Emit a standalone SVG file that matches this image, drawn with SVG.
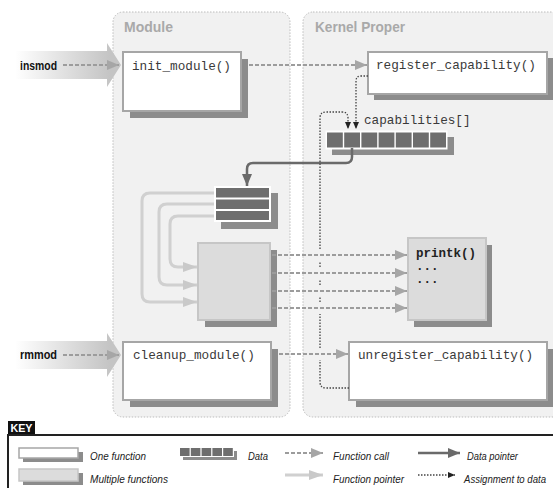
<svg xmlns="http://www.w3.org/2000/svg" width="553" height="488" viewBox="0 0 553 488">
  <style>
    .panel { fill:#f1f1f1; stroke:#bcbcbc; stroke-width:1; stroke-dasharray:1.5 1.5; }
    .panel-title { font-family:"Liberation Sans",Arial,sans-serif; font-weight:bold; font-size:15px; fill:#a9a9a9; }
    .cmd { font-family:"Liberation Sans",Arial,sans-serif; font-weight:bold; font-size:13px; fill:#111; }
    .mono { font-family:"Liberation Mono","DejaVu Sans Mono",monospace; font-size:12.7px; fill:#3a3a3a; }
    .mono-b { font-family:"Liberation Mono","DejaVu Sans Mono",monospace; font-size:12.5px; font-weight:bold; fill:#222; }
    .key-text { font-family:"Liberation Sans",Arial,sans-serif; font-style:italic; font-size:11px; fill:#222; }
    .key-text.small { font-size:10px; }
    .shadow { fill:#8c8c8c; }
    .fn { fill:#ffffff; stroke:#a6a6a6; stroke-width:2; }
    .multi { fill:#dcdcdc; stroke:#c6c6c6; stroke-width:2; }
    .cell { fill:#6e6e6e; }
    .frame { fill:#ffffff; }
    .call { fill:none; stroke:#9c9c9c; stroke-width:2; stroke-dasharray:4 2; }
    .fptr { fill:none; stroke:#d0d0d0; stroke-width:3; }
    .dptr { fill:none; stroke:#6a6a6a; stroke-width:2.5; }
    .assign { fill:none; stroke:#444; stroke-width:1.3; stroke-dasharray:1.5 1.5; }
  </style>
  <defs>
    <marker id="callHead" markerUnits="userSpaceOnUse" viewBox="0 0 12 10" refX="12" refY="5" markerWidth="12" markerHeight="10" orient="auto">
      <path d="M0,0 L12,5 L0,10 z" fill="#a6a6a6"/>
    </marker>
    <marker id="fptrHead" markerUnits="userSpaceOnUse" viewBox="0 0 14 10" refX="14" refY="5" markerWidth="14" markerHeight="10" orient="auto">
      <path d="M0,0 L14,5 L0,10 z" fill="#c9c9c9"/>
    </marker>
    <marker id="dptrHead" markerUnits="userSpaceOnUse" viewBox="0 0 12 10" refX="12" refY="5" markerWidth="12" markerHeight="10" orient="auto">
      <path d="M0,0 L12,5 L0,10 z" fill="#6a6a6a"/>
    </marker>
    <marker id="assignHead" markerUnits="userSpaceOnUse" viewBox="0 0 7 6" refX="7" refY="3" markerWidth="7" markerHeight="6" orient="auto">
      <path d="M0,0 L7,3 L0,6 z" fill="#222"/>
    </marker>
    <linearGradient id="fade" gradientUnits="userSpaceOnUse" x1="15" y1="0" x2="110" y2="0">
      <stop offset="0" stop-color="#ffffff"/>
      <stop offset="1" stop-color="#c4c4c4"/>
    </linearGradient>
  </defs>

  <!-- panels -->
  <g id="module-panel">
    <rect class="panel" x="113" y="12" width="177" height="405" rx="10"/>
    <text class="panel-title" x="124" y="32" textLength="49" lengthAdjust="spacingAndGlyphs">Module</text>
  </g>
  <g id="kernel-panel">
    <rect class="panel" x="303" y="12" width="280" height="405" rx="10"/>
    <text class="panel-title" x="315" y="32" textLength="90" lengthAdjust="spacingAndGlyphs">Kernel Proper</text>
  </g>

  <!-- user commands -->
  <g id="insmod">
    <path d="M15,51 H107 V43 L121,65 L107,87 V79 H15 z" fill="url(#fade)"/>
    <text class="cmd" x="20" y="70" textLength="37" lengthAdjust="spacingAndGlyphs">insmod</text>
  </g>
  <g id="rmmod">
    <path d="M15,341 H107 V333 L121,355 L107,377 V369 H15 z" fill="url(#fade)"/>
    <text class="cmd" x="20" y="359" textLength="37" lengthAdjust="spacingAndGlyphs">rmmod</text>
  </g>

  <!-- module functions -->
  <g id="init_module">
    <rect class="shadow" x="130" y="59" width="118" height="59"/>
    <rect class="fn" x="123" y="52" width="118" height="59"/>
    <text class="mono" x="132" y="70">init_module()</text>
  </g>
  <g id="cleanup_module">
    <rect class="shadow" x="130" y="349" width="148" height="58"/>
    <rect class="fn" x="123" y="342" width="148" height="58"/>
    <text class="mono" x="133" y="359">cleanup_module()</text>
  </g>
  <g id="capability-table">
    <rect class="shadow" x="221" y="193" width="57" height="36"/>
    <rect class="frame" x="214" y="186" width="57" height="36"/>
    <rect class="cell" x="216" y="188" width="53" height="9.5"/>
    <rect class="cell" x="216" y="199.5" width="53" height="9.5"/>
    <rect class="cell" x="216" y="211" width="53" height="9"/>
  </g>
  <g id="module-functions">
    <rect class="shadow" x="205" y="250" width="72" height="77"/>
    <rect class="multi" x="198" y="243" width="72" height="77"/>
  </g>

  <!-- kernel functions and data -->
  <g id="register_capability">
    <rect class="shadow" x="374" y="58" width="179" height="42"/>
    <rect class="fn" x="368" y="52" width="179" height="42"/>
    <text class="mono" x="376" y="69">register_capability()</text>
  </g>
  <g id="unregister_capability">
    <rect class="shadow" x="356" y="349" width="198" height="58"/>
    <rect class="fn" x="349" y="342" width="198" height="58"/>
    <text class="mono" x="358" y="359">unregister_capability()</text>
  </g>
  <g id="capabilities">
    <text class="mono" x="364" y="124">capabilities[]</text>
    <rect class="shadow" x="332" y="137" width="122" height="18"/>
    <rect class="frame" x="325.5" y="130.5" width="122" height="19"/>
    <rect class="cell" x="327" y="132.5" width="15.8" height="15"/>
    <rect class="cell" x="344.2" y="132.5" width="15.8" height="15"/>
    <rect class="cell" x="361.4" y="132.5" width="15.8" height="15"/>
    <rect class="cell" x="378.6" y="132.5" width="15.8" height="15"/>
    <rect class="cell" x="395.8" y="132.5" width="15.8" height="15"/>
    <rect class="cell" x="413" y="132.5" width="15.8" height="15"/>
    <rect class="cell" x="430.2" y="132.5" width="15.8" height="15"/>
  </g>
  <g id="printk">
    <rect class="shadow" x="414" y="245" width="78" height="82"/>
    <rect class="multi" x="408" y="238" width="78" height="82"/>
    <text class="mono-b" x="416" y="257">printk()</text>
    <text class="mono-b" x="416" y="270">...</text>
    <text class="mono-b" x="416" y="283">...</text>
  </g>

  <!-- connectors -->
  <g id="connectors">
    <!-- function calls -->
    <path class="call" d="M63,65 H119" marker-end="url(#callHead)"/>
    <path class="call" d="M63,355 H119" marker-end="url(#callHead)"/>
    <path class="call" d="M249,65 H367" marker-end="url(#callHead)"/>
    <path class="call" d="M279,354 H348" marker-end="url(#callHead)"/>
    <path class="call" d="M272,255 H407" marker-end="url(#callHead)"/>
    <path class="call" d="M272,273 H407" marker-end="url(#callHead)"/>
    <path class="call" d="M272,291 H407" marker-end="url(#callHead)"/>
    <path class="call" d="M272,308 H407" marker-end="url(#callHead)"/>
    <!-- function pointers from the table -->
    <path class="fptr" d="M214,193 H150 Q142,193 142,201 V294 Q142,302 150,302 H197" marker-end="url(#fptrHead)"/>
    <path class="fptr" d="M214,204 H167 Q159,204 159,212 V277 Q159,285 167,285 H197" marker-end="url(#fptrHead)"/>
    <path class="fptr" d="M214,216 H178 Q170,216 170,224 V259 Q170,267 178,267 H197" marker-end="url(#fptrHead)"/>
    <!-- data pointer from capabilities[] to the table -->
    <path class="dptr" d="M352,148 V157 Q352,163 346,163 H253 Q247,163 247,169 V186" marker-end="url(#dptrHead)"/>
    <!-- assignments to data -->
    <path class="assign" d="M368,76 H361 Q356,76 356,81 V129" marker-end="url(#assignHead)"/>
    <path class="assign" d="M349,388 H326 Q320,388 320,382 V360 M320,348 V314 M320,302 V297 M320,285 V279 M320,267 V261 M320,249 V118 Q320,112 326,112 H342 Q348,112 348,118 V129" marker-end="url(#assignHead)"/>
  </g>

  <!-- legend -->
  <g id="key">
    <rect x="8" y="421" width="27" height="13" fill="#111"/>
    <text x="10.5" y="432" font-family="'Liberation Sans',Arial,sans-serif" font-weight="bold" font-size="11" fill="#fff" textLength="22" lengthAdjust="spacingAndGlyphs">KEY</text>
    <path d="M8,435 H553 M8,434 V488" fill="none" stroke="#222" stroke-width="2"/>

    <rect class="shadow" x="23" y="452" width="60" height="10"/>
    <rect x="19" y="448" width="59" height="10" fill="#fff" stroke="#a6a6a6" stroke-width="1.5"/>
    <text class="key-text" x="90" y="460" textLength="56" lengthAdjust="spacingAndGlyphs">One function</text>

    <rect class="shadow" x="23" y="473" width="60" height="12"/>
    <rect x="19" y="469" width="59" height="12" fill="#dcdcdc" stroke="#c6c6c6" stroke-width="1.5"/>
    <text class="key-text" x="90" y="483" textLength="78" lengthAdjust="spacingAndGlyphs">Multiple functions</text>

    <rect class="shadow" x="183" y="451" width="54" height="9"/>
    <rect class="frame" x="179" y="447" width="55" height="10"/>
    <rect class="cell" x="180" y="448" width="9.6" height="8"/>
    <rect class="cell" x="190.8" y="448" width="9.6" height="8"/>
    <rect class="cell" x="201.6" y="448" width="9.6" height="8"/>
    <rect class="cell" x="212.4" y="448" width="9.6" height="8"/>
    <rect class="cell" x="223.2" y="448" width="9.6" height="8"/>
    <text class="key-text" x="248" y="460" textLength="20" lengthAdjust="spacingAndGlyphs">Data</text>

    <path class="call" d="M285,453 H323" marker-end="url(#callHead)"/>
    <text class="key-text" x="333" y="460" textLength="56" lengthAdjust="spacingAndGlyphs">Function call</text>
    <path class="fptr" d="M285,475 H323" marker-end="url(#fptrHead)"/>
    <text class="key-text" x="333" y="483" textLength="71" lengthAdjust="spacingAndGlyphs">Function pointer</text>

    <path class="dptr" d="M418,453 H460" marker-end="url(#dptrHead)"/>
    <text class="key-text" x="467" y="460" textLength="51" lengthAdjust="spacingAndGlyphs">Data pointer</text>
    <path class="assign" d="M418,475 H455" marker-end="url(#assignHead)"/>
    <text class="key-text small" x="464" y="483" textLength="82" lengthAdjust="spacingAndGlyphs">Assignment to data</text>
  </g>
</svg>
